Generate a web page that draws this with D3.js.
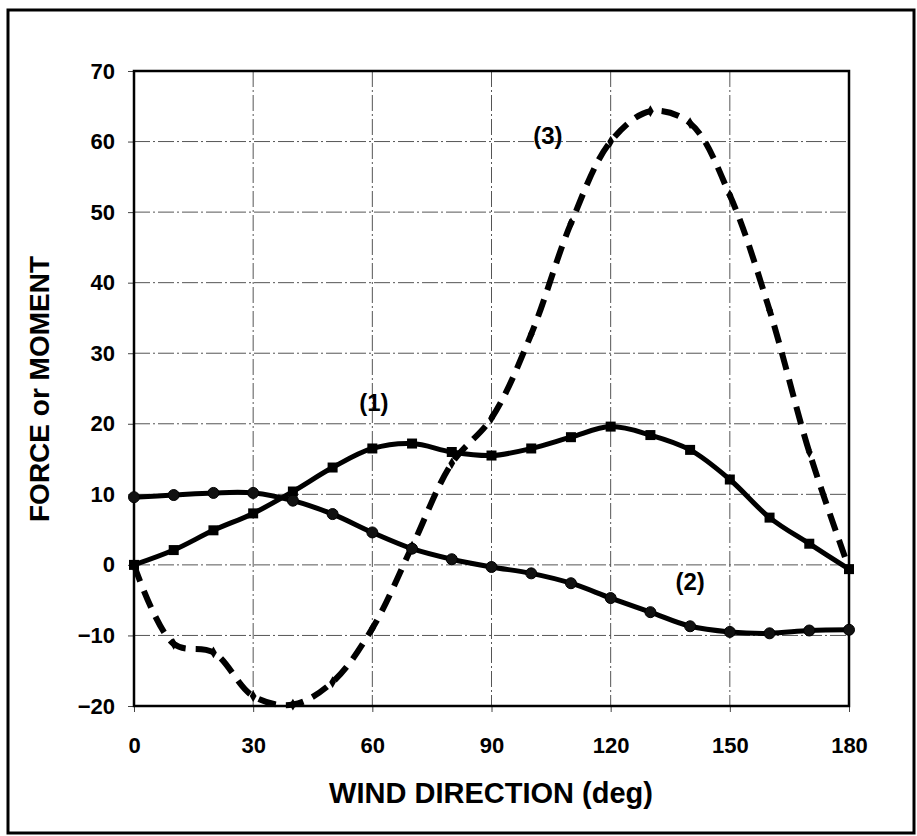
<!DOCTYPE html>
<html><head><meta charset="utf-8">
<script src="https://cdn.jsdelivr.net/npm/d3@7/dist/d3.min.js"></script>
<style>
body{margin:0;background:#fff;}
text{font-family:"Liberation Sans",Arial,sans-serif;font-weight:bold;fill:#000;}
</style></head>
<body><svg id="c" width="917" height="836"></svg>
<script>
const angles = [0,10,20,30,40,50,60,70,80,90,100,110,120,130,140,150,160,170,180];
const series1 = [0,2.1,4.9,7.3,10.4,13.8,16.5,17.2,16.0,15.5,16.5,18.1,19.6,18.4,16.3,12.1,6.7,3.0,-0.6];
const series2 = [9.6,9.9,10.2,10.2,9.1,7.2,4.6,2.3,0.8,-0.3,-1.2,-2.6,-4.7,-6.7,-8.7,-9.5,-9.7,-9.3,-9.2];
const series3 = [0,-11.2,-12.4,-18.6,-19.8,-16.6,-9.0,2.6,14.4,20.8,32.7,48.4,60.0,64.3,62.6,52.4,36.1,16.0,-0.5];
const xTicks = [0,30,60,90,120,150,180];
const yTicks = [-20,-10,0,10,20,30,40,50,60,70];
const labels = [{t:"(1)",a:60.4,v:21.8},{t:"(2)",a:140,v:-3.5},{t:"(3)",a:104.2,v:59.7}];

const svg = d3.select("#c");
const L=134,R=849,T=71,B=706;
const x = d3.scaleLinear().domain([0,180]).range([L,R]);
const y = d3.scaleLinear().domain([-20,70]).range([B,T]);

// outer frame
svg.append("rect").attr("x",8).attr("y",10).attr("width",906).attr("height",823)
  .attr("fill","none").attr("stroke","#000").attr("stroke-width",3);

// grid
const g = svg.append("g");
g.selectAll(".gx").data(xTicks.slice(1,-1)).enter().append("line")
  .attr("x1",d=>x(d)).attr("x2",d=>x(d)).attr("y1",T).attr("y2",B)
  .attr("stroke","#555").attr("stroke-width",1).attr("stroke-dasharray","16,3,2,3");
g.selectAll(".gy").data(yTicks.slice(1,-1)).enter().append("line")
  .attr("x1",L).attr("x2",R).attr("y1",d=>y(d)).attr("y2",d=>y(d))
  .attr("stroke","#555").attr("stroke-width",1).attr("stroke-dasharray","16,3,2,3");

// axes
const xa = svg.append("g").attr("transform",`translate(0,${B})`)
  .call(d3.axisBottom(x).tickValues(xTicks).tickSize(6).tickPadding(25));
const ya = svg.append("g").attr("transform",`translate(${L},0)`)
  .call(d3.axisLeft(y).tickValues(yTicks).tickSize(6).tickPadding(13));
[xa,ya].forEach(a=>{a.select(".domain").remove();
  a.selectAll(".tick line").attr("stroke","#444");
  a.selectAll(".tick text").style("font-size","22px").style("font-weight","bold")
   .style("font-family","'Liberation Sans',Arial,sans-serif").attr("fill","#000");});

// plot frame
svg.append("rect").attr("x",L).attr("y",T).attr("width",R-L).attr("height",B-T)
  .attr("fill","none").attr("stroke","#000").attr("stroke-width",2.5);

const line = d3.line().x((d,i)=>x(angles[i])).y(d=>y(d)).curve(d3.curveCatmullRom.alpha(0.5));

// series 3 dashed
svg.append("path").datum(series3).attr("d",line).attr("fill","none")
  .attr("stroke","#000").attr("stroke-width",6).attr("stroke-dasharray","18,10");
svg.selectAll(".m3").data(series3).enter().append("path")
  .attr("transform",(d,i)=>`translate(${x(angles[i])},${y(d)})`)
  .attr("d",d3.symbol(d3.symbolDiamond,40)).attr("fill","#000");

// series 1
svg.append("path").datum(series1).attr("d",line).attr("fill","none")
  .attr("stroke","#000").attr("stroke-width",5);
svg.selectAll(".m1").data(series1).enter().append("rect")
  .attr("x",(d,i)=>x(angles[i])-5).attr("y",d=>y(d)-5).attr("width",10).attr("height",10).attr("fill","#000");

// series 2
svg.append("path").datum(series2).attr("d",line).attr("fill","none")
  .attr("stroke","#000").attr("stroke-width",5);
svg.selectAll(".m2").data(series2).enter().append("circle")
  .attr("cx",(d,i)=>x(angles[i])).attr("cy",d=>y(d)).attr("r",5.5)
  .attr("fill","#111").attr("stroke","#000").attr("stroke-width",1);

// series labels
svg.selectAll(".lb").data(labels).enter().append("text")
  .attr("x",d=>x(d.a)).attr("y",d=>y(d.v)).attr("text-anchor","middle")
  .style("font-size","24px").text(d=>d.t);

// axis titles
svg.append("text").attr("x",491).attr("y",803).attr("text-anchor","middle")
  .style("font-size","29px").text("WIND DIRECTION (deg)");
svg.append("text").attr("transform","translate(49,389) rotate(-90)").attr("text-anchor","middle")
  .style("font-size","28px").text("FORCE or MOMENT");
</script></body></html>
